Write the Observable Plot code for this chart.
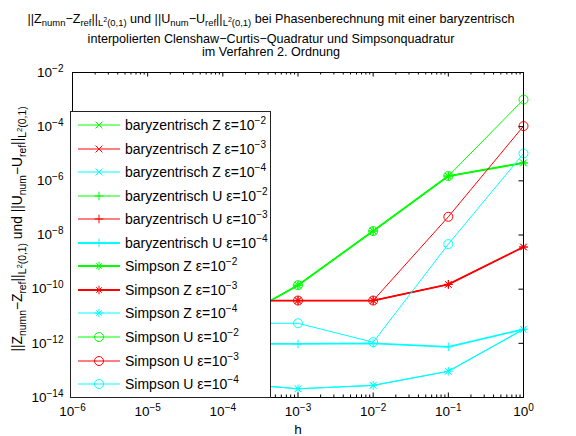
<!DOCTYPE html>
<html><head><meta charset="utf-8">
<script src="https://cdn.jsdelivr.net/npm/d3@7"></script>
<script src="https://cdn.jsdelivr.net/npm/@observablehq/plot@0.6"></script>
<style>
body{margin:0;background:#fff;font-family:"Liberation Sans",Arial,Helvetica,sans-serif;color:#000;}
#wrap{position:relative;width:576px;height:436px;overflow:hidden;background:#fff;}
#title{position:relative;height:60px;}
.tl{position:absolute;left:0;width:542px;text-align:center;font-size:12.6px;line-height:14px;white-space:nowrap;}
sub{font-size:0.75em;vertical-align:-0.35em;line-height:0;}
sup{font-size:0.75em;vertical-align:0.55em;line-height:0;}
#ylab{position:absolute;left:18px;top:229px;transform:translate(-50%,-50%) rotate(-90deg);font-size:13.8px;white-space:nowrap;line-height:16px;}
#legend{position:absolute;left:70px;top:111px;width:199px;height:285px;border:1px solid #222;background:#fff;}
.lrow{position:absolute;left:0;height:18px;width:199px;}
.lrow svg{position:absolute;left:0;top:0;}
.lrow span{position:absolute;left:54px;top:0px;font-size:14px;line-height:18px;white-space:nowrap;}
.lrow sup{font-size:0.72em;vertical-align:0.6em;}
</style>
</head><body>
<div id="wrap">
  <div id="title">
    <div class="tl" style="top:12px">||Z<sub>numn</sub>−Z<sub>ref</sub>||<sub>L<sup>2</sup>(0,1)</sub> und ||U<sub>num</sub>−U<sub>ref</sub>||<sub>L<sup>2</sup>(0,1)</sub> bei Phasenberechnung mit einer baryzentrisch</div>
    <div class="tl" style="top:32px">interpolierten Clenshaw−Curtis−Quadratur und Simpsonquadratur</div>
    <div class="tl" style="top:45px">im Verfahren 2. Ordnung</div>
  </div>
  <div id="chart"></div>
  <div id="ylab">||Z<sub>numn</sub>−Z<sub>ref</sub>||<sub>L<sup>2</sup>(0,1)</sub> und ||U<sub>num</sub>−U<sub>ref</sub>||<sub>L<sup>2</sup>(0,1)</sub></div>
  <div id="legend"></div>
</div>
<script>
// ---- data ----
const h = [1e-4, 1e-3, 1e-2, 1e-1, 1];

const baryZ_e2 = [3.8e-12, 1.4e-10, 1.4e-8, 1.5e-6, 4.6e-6];
const baryZ_e3 = [3.8e-11, 3.8e-11, 3.8e-11, 1.5e-10, 3.6e-9];
const baryZ_e4 = [3.6e-14, 2.1e-14, 2.8e-14, 9.3e-14, 3.3e-12];
const baryU_e2 = [3.8e-12, 1.4e-10, 1.4e-8, 1.5e-6, 4.6e-6];
const baryU_e3 = [3.8e-11, 3.8e-11, 3.8e-11, 1.5e-10, 3.6e-9];
const baryU_e4 = [9.5e-13, 9.5e-13, 1.0e-12, 7.4e-13, 3.3e-12];
const simpZ_e2 = [3.8e-12, 1.4e-10, 1.4e-8, 1.5e-6, 4.6e-6];
const simpZ_e3 = [3.8e-11, 3.8e-11, 3.8e-11, 1.5e-10, 3.6e-9];
const simpZ_e4 = [3.6e-14, 2.1e-14, 2.8e-14, 9.3e-14, 3.3e-12];
const simpU_e2 = [3.8e-12, 1.4e-10, 1.4e-8, 1.5e-6, 1.0e-3];
const simpU_e3 = [3.8e-11, 3.8e-11, 3.8e-11, 4.7e-8, 1.05e-4];
const simpU_e4 = [5.5e-12, 5.5e-12, 1.1e-12, 4.6e-9, 1.02e-5];

const seriesNames = [
  "baryzentrisch Z ε=10^−2","baryzentrisch Z ε=10^−3","baryzentrisch Z ε=10^−4",
  "baryzentrisch U ε=10^−2","baryzentrisch U ε=10^−3","baryzentrisch U ε=10^−4",
  "Simpson Z ε=10^−2","Simpson Z ε=10^−3","Simpson Z ε=10^−4",
  "Simpson U ε=10^−2","Simpson U ε=10^−3","Simpson U ε=10^−4"
];
const seriesValues = [baryZ_e2, baryZ_e3, baryZ_e4, baryU_e2, baryU_e3, baryU_e4,
                      simpZ_e2, simpZ_e3, simpZ_e4, simpU_e2, simpU_e3, simpU_e4];
const seriesColors = ["#00ff00","#ff0000","#00ffff","#00ff00","#ff0000","#00ffff",
                      "#00ff00","#ff0000","#00ffff","#00ff00","#ff0000","#00ffff"];
const seriesMarkers = ["x","x","x","+","+","+","*","*","*","o","o","o"];
const seriesWidths = [1,1,1,1.2,1,1.8,1.8,1.8,1.2,1,1,1];

const xMajor = [1e-6,1e-5,1e-4,1e-3,1e-2,1e-1,1];
const xMinor = d3.range(-6,0).flatMap(e => d3.range(2,10).map(k => k*Math.pow(10,e)));
const yMajor = [1e-14,1e-12,1e-10,1e-8,1e-6,1e-4,1e-2];

// ---- chart ----
const mL=72, mR=53, mT=12, mB=39, W=576, H=376;
const PW = W-mL-mR, PH = H-mT-mB;
const expFmt = d => { const e = Math.round(Math.log10(d)); return "10^" + (e<0 ? "−"+(-e) : String(e)); };

function markerMarks(rows, m, color) {
  const base = {x:"h", y:"v", stroke: color, fill:"none", strokeWidth:1};
  if (m === "o") return [Plot.dot(rows, {...base, symbol:"circle", r:4.5})];
  if (m === "x") return [Plot.dot(rows, {...base, symbol:"times", r:3.2})];
  if (m === "+") return [Plot.dot(rows, {...base, symbol:"plus", r:2.9})];
  return [Plot.dot(rows, {...base, symbol:"plus", r:2.9}), Plot.dot(rows, {...base, symbol:"times", r:2.6})];
}

const marks = [];
seriesValues.forEach((vals, i) => {
  const rows = h.map((hh, j) => ({h: hh, v: vals[j]}));
  marks.push(Plot.line(rows, {x:"h", y:"v", stroke: seriesColors[i], strokeWidth: seriesWidths[i]}));
  marks.push(...markerMarks(rows, seriesMarkers[i], seriesColors[i]));
});

marks.push(
  Plot.tickX(xMajor, {x: d=>d, insetTop: PH-4.5, stroke:"black"}),
  Plot.tickX(xMajor, {x: d=>d, insetBottom: PH-4.5, stroke:"black"}),
  Plot.tickX(xMinor, {x: d=>d, insetTop: PH-2.5, stroke:"black"}),
  Plot.tickX(xMinor, {x: d=>d, insetBottom: PH-2.5, stroke:"black"}),
  Plot.tickY(yMajor, {y: d=>d, insetRight: PW-4.5, stroke:"black"}),
  Plot.tickY(yMajor, {y: d=>d, insetLeft: PW-4.5, stroke:"black"}),
  Plot.frame({stroke:"black", strokeWidth:1}),
  Plot.text(xMajor, {x: d=>d, frameAnchor:"bottom", dy:18, text: expFmt, fontSize:13.5, fill:"black", className:"explbl"}),
  Plot.text(yMajor, {y: d=>d, frameAnchor:"left", dx:-9, textAnchor:"end", text: expFmt, fontSize:13.5, fill:"black", className:"explbl"}),
  Plot.text(["h"], {frameAnchor:"bottom", dy:36, text: d=>d, fontSize:13.5, fill:"black"})
);

const svg = Plot.plot({
  width: W, height: H, marginLeft: mL, marginRight: mR, marginTop: mT, marginBottom: mB,
  x: {type:"log", domain:[1e-6,1], axis:null},
  y: {type:"log", domain:[1e-14,1e-2], axis:null},
  style: {fontFamily:"'Liberation Sans', Arial, sans-serif", fontSize:"12px", background:"white", overflow:"visible"},
  marks
});
document.getElementById("chart").appendChild(svg);

const NS = "http://www.w3.org/2000/svg";
svg.querySelectorAll(".explbl text").forEach(t => {
  const [b, e] = t.textContent.split("^");
  t.textContent = "";
  const t1 = document.createElementNS(NS, "tspan"); t1.textContent = b;
  const t2 = document.createElementNS(NS, "tspan"); t2.textContent = e;
  t2.setAttribute("dy", "-0.5em"); t2.setAttribute("font-size", "10px");
  t.append(t1, t2);
});

// ---- legend ----
const legend = document.getElementById("legend");
seriesNames.forEach((name, i) => {
  const row = document.createElement("div");
  row.className = "lrow";
  row.style.top = (13 + i*23.55 - 9) + "px";
  const s = d3.create("svg").attr("width", 52).attr("height", 18);
  const c = seriesColors[i];
  s.append("line").attr("x1",7).attr("x2",49).attr("y1",9).attr("y2",9).attr("stroke",c).attr("stroke-width",seriesWidths[i]);
  const m = seriesMarkers[i];
  const sym = (type, r) => s.append("path").attr("transform","translate(28,9)")
      .attr("d", d3.symbol(type, Math.PI*r*r)()).attr("fill","none").attr("stroke",c).attr("stroke-width",1);
  if (m === "o") sym(d3.symbolCircle, 4.5);
  else if (m === "x") sym(d3.symbolTimes, 3.2);
  else if (m === "+") sym(d3.symbolPlus, 2.9);
  else { sym(d3.symbolPlus, 2.9); sym(d3.symbolTimes, 2.6); }
  row.appendChild(s.node());
  const [b, e] = name.split("^");
  const span = document.createElement("span");
  span.innerHTML = b + "<sup>" + e + "</sup>";
  row.appendChild(span);
  legend.appendChild(row);
});
</script>
</body></html>
